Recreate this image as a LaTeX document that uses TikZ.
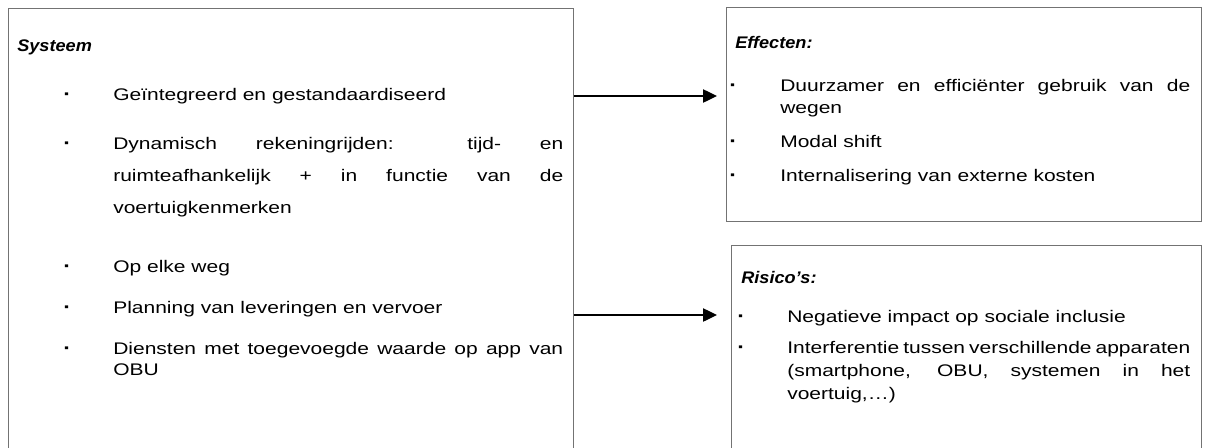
\documentclass[tikz,border=0pt]{standalone}
\usepackage{fontspec}
\setmainfont{Liberation Sans}[FakeStretch=1.25]
\newfontfamily\headfont{Liberation Sans}[FakeStretch=1.08]
\usetikzlibrary{arrows.meta}

% widths given in pixels of the drawing grid (1px = 0.75pt)
\newcommand{\pxw}[1]{\dimexpr #1pt*3/4\relax}
\newcommand{\jline}[2]{\makebox[\pxw{#1}][s]{#2}}

\tikzset{
  panel/.style={draw=black!55, line width=0.8pt, anchor=north west, inner sep=0pt},
  txt/.style={anchor=base west, inner sep=0pt, font=\fontsize{12.6pt}{15pt}\selectfont},
  head/.style={txt, font=\headfont\fontsize{12.6pt}{15pt}\selectfont\bfseries\itshape},
  dot/.style={txt, font=\fontsize{14pt}{15pt}\selectfont\bfseries},
  conn/.style={draw=black, line width=1pt, -{Triangle[length=10.5pt,width=10pt]}}
}

\begin{document}
\begin{tikzpicture}[x=0.75pt,y=-0.75pt]
\useasboundingbox (0,0) rectangle (1213,447);
\clip (0,0) rectangle (1213,447);

% panels
\node[panel, minimum width=\pxw{565}, minimum height=\pxw{462}] (sys) at (8,8) {};
\node[panel, minimum width=\pxw{475}, minimum height=\pxw{214}] (eff) at (726,7) {};
\node[panel, minimum width=\pxw{470}, minimum height=\pxw{225}] (ris) at (731,245) {};

% system panel
\node[head] (sysh) at (17,51) {Systeem};
\node[dot] (sb1) at (63,100) {·};
\node[txt] (s1) at (113,100) {Geïntegreerd en gestandaardiseerd};
\node[dot] (sb2) at (63,149) {·};
\node[txt] (s2a) at (113,149) {\jline{450}{Dynamisch rekeningrijden: tijd- en}};
\node[txt] (s2b) at (113,181) {\jline{450}{ruimteafhankelijk + in functie van de}};
\node[txt] (s2c) at (113,213) {voertuigkenmerken};
\node[dot] (sb3) at (63,272) {·};
\node[txt] (s3) at (113,272) {Op elke weg};
\node[dot] (sb4) at (63,313) {·};
\node[txt] (s4) at (113,313) {Planning van leveringen en vervoer};
\node[dot] (sb5) at (63,354) {·};
\node[txt] (s5a) at (113,354) {\jline{450}{Diensten met toegevoegde waarde op app van}};
\node[txt] (s5b) at (113,375) {OBU};

% effects panel
\node[head] (effh) at (735,48) {Effecten:};
\node[dot] (eb1) at (729,91) {·};
\node[txt] (e1a) at (780,91) {\jline{410}{Duurzamer en efficiënter gebruik van de}};
\node[txt] (e1b) at (780,113) {wegen};
\node[dot] (eb2) at (729,147) {·};
\node[txt] (e2) at (780,147) {Modal shift};
\node[dot] (eb3) at (729,181) {·};
\node[txt] (e3) at (780,181) {Internalisering van externe kosten};

% risks panel
\node[head] (rish) at (741,283) {Risico’s:};
\node[dot] (rb1) at (737,322) {·};
\node[txt] (r1) at (787,322) {Negatieve impact op sociale inclusie};
\node[dot] (rb2) at (737,353) {·};
\node[txt] (r2a) at (787,353) {\jline{403}{Interferentie tussen verschillende apparaten}};
\node[txt] (r2b) at (787,376) {\jline{403}{(smartphone, OBU, systemen in het}};
\node[txt] (r2c) at (787,399) {voertuig,…)};

% connectors
\coordinate (effin) at (717,96);
\coordinate (risin) at (717,315);
\draw[conn] (sys.east |- effin) -- (effin);
\draw[conn] (sys.east |- risin) -- (risin);
\end{tikzpicture}
\end{document}
